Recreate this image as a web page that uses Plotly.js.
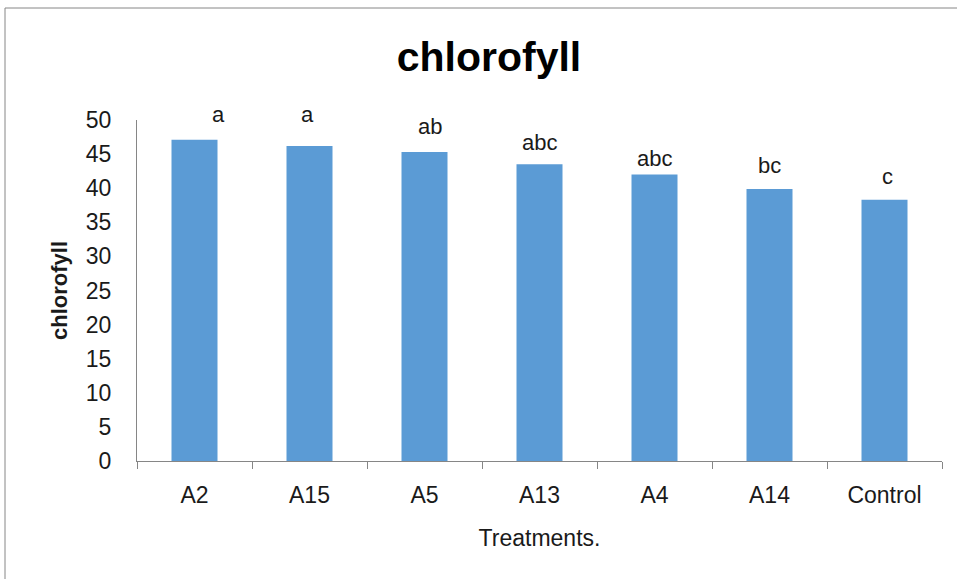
<!DOCTYPE html>
<html>
<head>
<meta charset="utf-8">
<script src="https://cdn.plot.ly/plotly-3.0.1.min.js"></script>
<style>
html,body{margin:0;padding:0;background:#fff;}
#chart{width:957px;height:579px;}
</style>
</head>
<body>
<div id="chart"></div>
<script>
// Data
const treatments = ["A2", "A15", "A5", "A13", "A4", "A14", "Control"];
const chlorofyll = [47.1, 46.2, 45.3, 43.5, 42.0, 39.9, 38.3];
const letters = ["a", "a", "ab", "abc", "abc", "bc", "c"];

// Label placement offsets (pixels) - styling only
const letterXShift = [24, -2, 5, 0, 0, 0, 3];
const letterYShift = [11, 17, 11, 7, 2, 9, 9];

const FONT = "Liberation Sans, Arial, sans-serif";
const TXT = "#1a1a1a";
const AXIS = "#868686";

const annotations = treatments.map((t, i) => ({
  x: t, y: chlorofyll[i], xref: "x", yref: "y",
  text: letters[i], showarrow: false,
  xanchor: "center", yanchor: "bottom",
  xshift: letterXShift[i], yshift: letterYShift[i],
  font: {family: FONT, size: 22, color: TXT}
}));

const trace = {
  type: "bar",
  x: treatments,
  y: chlorofyll,
  marker: {color: "#5B9BD5"},
  hoverinfo: "x+y"
};

const layout = {
  width: 957, height: 579,
  margin: {l: 137, r: 15, t: 120, b: 118, pad: 0},
  paper_bgcolor: "#ffffff",
  plot_bgcolor: "#ffffff",
  bargap: 0.6,
  showlegend: false,
  font: {family: FONT, color: TXT},
  title: {
    text: "<b>chlorofyll</b>",
    font: {family: FONT, size: 41, color: "#000"},
    x: 489 / 957, xref: "container", xanchor: "center",
    y: 1 - 57/579, yref: "container", yanchor: "middle"
  },
  xaxis: {
    type: "category",
    showline: true, linecolor: AXIS, linewidth: 1,
    ticks: "outside", tickson: "boundaries", ticklen: 7, tickcolor: AXIS, tickwidth: 1,
    showgrid: false, zeroline: false,
    tickfont: {family: FONT, size: 23, color: TXT},
    ticklabelstandoff: 13,
    title: {text: "Treatments.", font: {family: FONT, size: 23, color: TXT}, standoff: 23}
  },
  yaxis: {
    range: [0, 50], dtick: 5, tick0: 0,
    showline: true, linecolor: AXIS, linewidth: 1,
    ticks: "", showgrid: false, zeroline: false,
    tickfont: {family: FONT, size: 23, color: TXT},
    ticklabelstandoff: 20,
    title: {text: "<b>chlorofyll</b>", font: {family: FONT, size: 22, color: TXT}, standoff: 12}
  },
  annotations: annotations,
  shapes: [{
    type: "rect", xref: "paper", yref: "paper",
    x0: (5 - 137) / 805, x1: (1000 - 137) / 805,
    y0: (461 - 620) / 341, y1: (461 - 8) / 341,
    line: {color: AXIS, width: 1}, fillcolor: "rgba(0,0,0,0)", layer: "below"
  }]
};

Plotly.newPlot("chart", [trace], layout, {displayModeBar: false, staticPlot: true});
</script>
</body>
</html>
